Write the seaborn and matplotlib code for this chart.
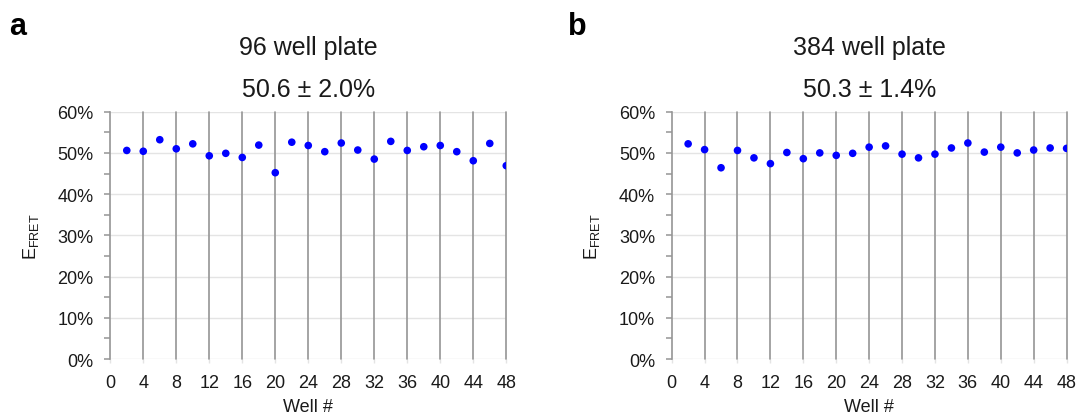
import matplotlib
matplotlib.use("Agg")
import matplotlib.pyplot as plt
import seaborn as sns
import pandas as pd
import numpy as np
from matplotlib.ticker import MultipleLocator, PercentFormatter

# ---- data ----
wells = [2, 4, 6, 8, 10, 12, 14, 16, 18, 20, 22, 24,
         26, 28, 30, 32, 34, 36, 38, 40, 42, 44, 46, 48]
efret_96 = [50.6, 50.4, 53.2, 51.0, 52.2, 49.3, 49.9, 48.9, 51.9, 45.2, 52.6, 51.8,
            50.3, 52.4, 50.7, 48.5, 52.8, 50.6, 51.5, 51.8, 50.3, 48.1, 52.3, 46.9]
efret_384 = [52.2, 50.8, 46.4, 50.6, 48.8, 47.4, 50.1, 48.6, 50.0, 49.4, 49.9, 51.4,
             51.7, 49.7, 48.8, 49.7, 51.2, 52.4, 50.2, 51.4, 50.0, 50.7, 51.2, 51.1]
panel_letters = ["a", "b"]
plate_titles = ["96 well plate", "384 well plate"]
stat_titles = ["50.6 \u00b1 2.0%", "50.3 \u00b1 1.4%"]
x_ticks = list(range(0, 49, 4))
y_ticks = list(range(0, 61, 10))

sns.set_style("white")
plt.rcParams["font.family"] = ["Liberation Sans", "DejaVu Sans"]
plt.rcParams["mathtext.fontset"] = "custom"
plt.rcParams["mathtext.rm"] = "Liberation Sans"
plt.rcParams["mathtext.it"] = "Liberation Sans:italic"

fig = plt.figure(figsize=(10.79, 4.14), dpi=100)
axes_rects = [[0.1022, 0.1304, 0.367, 0.5974], [0.6225, 0.1304, 0.366, 0.5974]]
series = [efret_96, efret_384]
txt = "#1a1a1a"
gridc = "#959595"

for i in range(2):
    ax = fig.add_axes(axes_rects[i])
    df = pd.DataFrame({"well": wells, "efret": series[i]})
    for y in y_ticks:
        ax.axhline(y, color="#e4e4e4", lw=1.0, zorder=0)
    for x in x_ticks[1:]:
        ax.axvline(x, color=gridc, lw=1.2, zorder=1, clip_on=False)
    sns.scatterplot(data=df, x="well", y="efret", ax=ax, color="#0000ff",
                    s=30, edgecolor="none", zorder=3, legend=False)
    ax.set_xlim(0, 48)
    ax.set_ylim(0, 60)
    ax.set_xticks(x_ticks)
    ax.set_yticks(y_ticks)
    ax.yaxis.set_minor_locator(MultipleLocator(5))
    ax.yaxis.set_major_formatter(PercentFormatter(decimals=0))
    for s in ["top", "right", "bottom"]:
        ax.spines[s].set_visible(False)
    ax.spines["left"].set_color(gridc)
    ax.spines["left"].set_linewidth(1.2)
    ax.tick_params(axis="y", which="major", length=4, width=1.1, color=gridc,
                   labelsize=13, labelcolor=txt, pad=8, left=True)
    ax.tick_params(axis="y", which="minor", length=4, width=1.1, color=gridc, left=True)
    ax.tick_params(axis="x", length=3, width=1.0, color="#e4e4e4",
                   labelsize=13, labelcolor=txt, pad=7.5, bottom=True)
    ax.set_xlabel("Well #", fontsize=13, color=txt, labelpad=5)
    ax.set_ylabel("E$_{\\rm FRET}$", fontsize=13, color=txt, labelpad=12)
    cx = axes_rects[i][0] + axes_rects[i][2] / 2
    fig.text(cx, 1 - 48 / 414, plate_titles[i], ha="center", va="center",
             fontsize=18, color=txt)
    fig.text(cx, 1 - 90 / 414, stat_titles[i], ha="center", va="center",
             fontsize=18, color=txt)
    lx = [18, 577][i]
    fig.text(lx / 1079, 1 - 27 / 414, panel_letters[i], ha="center", va="center",
             fontsize=22, fontweight="bold", color="#000000")

fig.savefig("out.png", dpi=100)
